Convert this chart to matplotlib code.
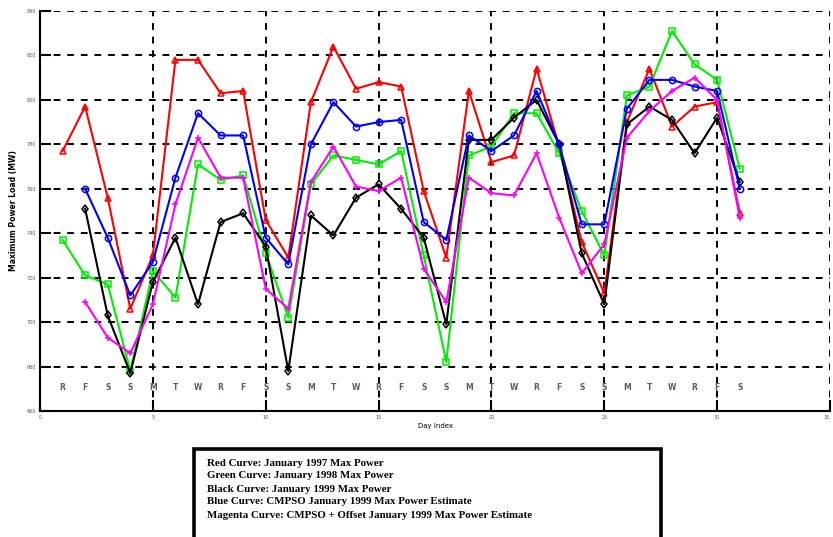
import matplotlib
matplotlib.use("Agg")
import matplotlib.pyplot as plt
from matplotlib.patches import Rectangle

# Day of month (January) and weekday initials
days = list(range(1, 32))
weekdays = ["R", "F", "S", "S", "M", "T", "W", "R", "F", "S", "S", "M", "T", "W", "R",
            "F", "S", "S", "M", "T", "W", "R", "F", "S", "S", "M", "T", "W", "R", "F", "S"]

# Daily maximum power load (MW)
red_1997 = [777, 797, 756, 706, 730, 818, 818, 803, 804, 746, 729, 799, 824, 805, 808, 806,
            759, 729, 804, 772, 775, 814, 779, 736, 713, 790, 814, 788, 797, 799, 749]
green_1998 = [737, 721, 717, 678, 723, 711, 771, 764, 766, 731, 702, 762, 775, 773, 771, 777,
              730, 682, 775, 779, 794, 794, 776, 750, 730, 802, 806, 831, 816, 809, 769]
# Series below start on day 2
black_1999 = [751, 703, 677, 718, 738, 708, 745, 749, 734, 678, 748, 739, 756, 762, 751,
              738, 699, 782, 782, 792, 800, 780, 731, 708, 789, 797, 791, 776, 792, 763]
blue_cmpso = [760, 738, 712, 727, 765, 794, 784, 784, 738, 726, 780, 799, 788, 790, 791,
              745, 737, 784, 777, 784, 804, 780, 744, 744, 796, 809, 809, 806, 804, 760]
magenta_offset = [709, 693, 686, 708, 753, 783, 765, 765, 715, 706, 763, 779, 761, 759, 765,
                  724, 709, 765, 758, 757, 776, 747, 722, 735, 783, 795, 804, 810, 800, 747]

y_ticks = [660, 680, 700, 720, 740, 760, 780, 800, 820, 840]
x_ticks = [0, 5, 10, 15, 20, 25, 30, 35]

legend_lines = [
    "Red Curve: January 1997 Max Power",
    "Green Curve: January 1998 Max Power",
    "Black Curve: January 1999 Max Power",
    "Blue Curve: CMPSO January 1999 Max Power Estimate",
    "Magenta Curve: CMPSO + Offset January 1999 Max Power Estimate",
]

W, H = 833, 537
fig = plt.figure(figsize=(W / 100, H / 100), dpi=100)
ax = fig.add_axes([40 / W, 1 - 411 / H, 790 / W, 400 / H])

ax.set_xlim(0, 35)
ax.set_ylim(660, 840)
ax.set_xticks(x_ticks)
ax.set_yticks(y_ticks)
ax.set_xticklabels([str(v) for v in x_ticks], fontsize=3.5, color="#555555")
ax.set_yticklabels([str(v) for v in y_ticks], fontsize=3.5, color="#555555")
ax.get_xticklabels()[-1].set_horizontalalignment("right")
ax.tick_params(direction="in", length=8, width=1.5, pad=3)

for side in ("top", "right"):
    ax.spines[side].set_visible(False)
for side in ("left", "bottom"):
    ax.spines[side].set_linewidth(1.5)

ax.grid(True, color="black", linestyle=(0, (3.5, 3.5)), linewidth=1.4)
ax.set_axisbelow(True)

mk = dict(markersize=4.5, markerfacecolor="none", markeredgewidth=1.1, linewidth=1.5)
ax.plot(days, red_1997, color="#ff0000", marker="^", **mk, zorder=3)
ax.plot(days, green_1998, color="#00ee00", marker="s", **mk, zorder=3)
ax.plot(days[1:], black_1999, color="black", marker="d", **mk, zorder=3)
ax.plot(days[1:], blue_cmpso, color="#0000ff", marker="o", **mk, zorder=4)
ax.plot(days[1:], magenta_offset, color="#ff00ff", marker="+", **mk, zorder=4)

for d, wd in zip(days, weekdays):
    ax.text(d, 670.5, wd, ha="center", va="center", fontsize=5.5, fontweight="bold",
            color="#5a5a6a", zorder=5)

ax.set_ylabel("Maximum Power Load (MW)", fontsize=5.5, fontweight="bold", labelpad=6)
ax.set_xlabel("Day Index", fontsize=5, labelpad=2)

# Caption box under the chart
fig.patches.append(Rectangle((194 / W, -0.05), (661 - 194) / W, 1 - 449 / H + 0.05,
                             transform=fig.transFigure, fill=False, edgecolor="black",
                             linewidth=2.6))
for i, line in enumerate(legend_lines):
    y = [464, 476, 489, 502, 516][i]
    fig.text(207 / W, 1 - y / H, line, ha="left", va="center", fontsize=7.8,
             fontweight="bold", family="Liberation Serif")

fig.savefig("out.png", dpi=100)
